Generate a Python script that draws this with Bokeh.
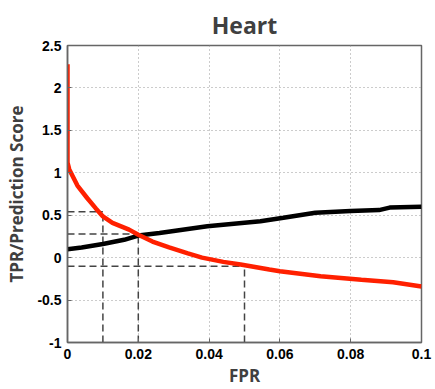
from bokeh.plotting import figure
from bokeh.models import FixedTicker, Range1d
from bokeh.embed import file_html
from bokeh.resources import INLINE

# Data
red_fpr = [0.0, 0.0, 0.0005, 0.0028, 0.0056, 0.008, 0.01, 0.0127, 0.0174, 0.02, 0.024, 0.0287,
           0.034, 0.038, 0.044, 0.0489, 0.057, 0.06, 0.0715, 0.083, 0.092, 0.1]
red_score = [2.28, 1.12, 1.04, 0.85, 0.70, 0.58, 0.485, 0.41, 0.33, 0.27, 0.19, 0.12,
             0.05, 0.0, -0.05, -0.08, -0.14, -0.16, -0.22, -0.26, -0.29, -0.34]
black_fpr = [0.0, 0.004, 0.01, 0.016, 0.02, 0.026, 0.0395, 0.0545, 0.061, 0.07, 0.08, 0.088, 0.091, 0.1]
black_tpr = [0.1, 0.12, 0.16, 0.21, 0.26, 0.29, 0.37, 0.43, 0.47, 0.53, 0.55, 0.56, 0.59, 0.6]
mark_fpr = [0.01, 0.02, 0.05]
mark_level = [0.54, 0.28, -0.1]
x_ticks = [0, 0.02, 0.04, 0.06, 0.08, 0.1]
x_tick_labels = ["0", "0.02", "0.04", "0.06", "0.08", "0.1"]
y_ticks = [-1, -0.5, 0, 0.5, 1, 1.5, 2, 2.5]
y_tick_labels = ["-1", "-0.5", "0", "0.5", "1", "1.5", "2", "2.5"]

p = figure(width=435, height=389, output_backend="svg", toolbar_location=None,
           x_range=Range1d(0, 0.1), y_range=Range1d(-1, 2.5),
           min_border_left=67, min_border_right=14, min_border_top=45, min_border_bottom=43,
           title="Heart")

p.title.text_font = "Open Sans"
p.title.text_font_style = "bold"
p.title.text_font_size = "23px"
p.title.text_color = "#404040"
p.title.align = "center"
p.title.offset = 8

p.background_fill_color = "white"
p.border_fill_color = "white"
p.outline_line_color = "#666666"
p.outline_line_width = 1.5

for ax, ticks, labels in ((p.xaxis, x_ticks, x_tick_labels), (p.yaxis, y_ticks, y_tick_labels)):
    ax.ticker = FixedTicker(ticks=ticks)
    ax.major_label_overrides = {t: l for t, l in zip(ticks, labels)}
    ax.major_label_text_font = "Liberation Sans"
    ax.major_label_text_font_style = "bold"
    ax.major_label_text_font_size = "14px"
    ax.major_label_text_color = "black"
    ax.axis_line_color = "#666666"
    ax.axis_line_width = 1.5
    ax.major_tick_in = 4
    ax.major_tick_out = 0
    ax.minor_tick_line_color = None
    ax.major_tick_line_color = "#666666"
    ax.axis_label_text_font = "Open Sans"
    ax.axis_label_text_font_style = "bold"
    ax.axis_label_text_font_size = "17px"
    ax.axis_label_text_color = "#404040"

p.xaxis.axis_label = "FPR"
p.yaxis.axis_label = "TPR/Prediction Score"
p.xaxis.major_label_standoff = 6
p.yaxis.major_label_standoff = 6
p.xaxis.axis_label_standoff = 2
p.yaxis.axis_label_standoff = 6

p.grid.grid_line_color = "#999999"
p.grid.grid_line_dash = "1 3"
p.grid.grid_line_width = 1

# dashed guide lines
for f, lv in zip(mark_fpr, mark_level):
    p.line([0, f], [lv, lv], line_color="#444444", line_dash="7 4", line_width=1.5)
    p.line([f, f], [-1, lv], line_color="#444444", line_dash="7 4", line_width=1.5)

p.line(black_fpr, black_tpr, line_color="black", line_width=4.5)
p.line(red_fpr, red_score, line_color="#ff2000", line_width=4.5)

open("out.html", "w").write(file_html(p, INLINE))
